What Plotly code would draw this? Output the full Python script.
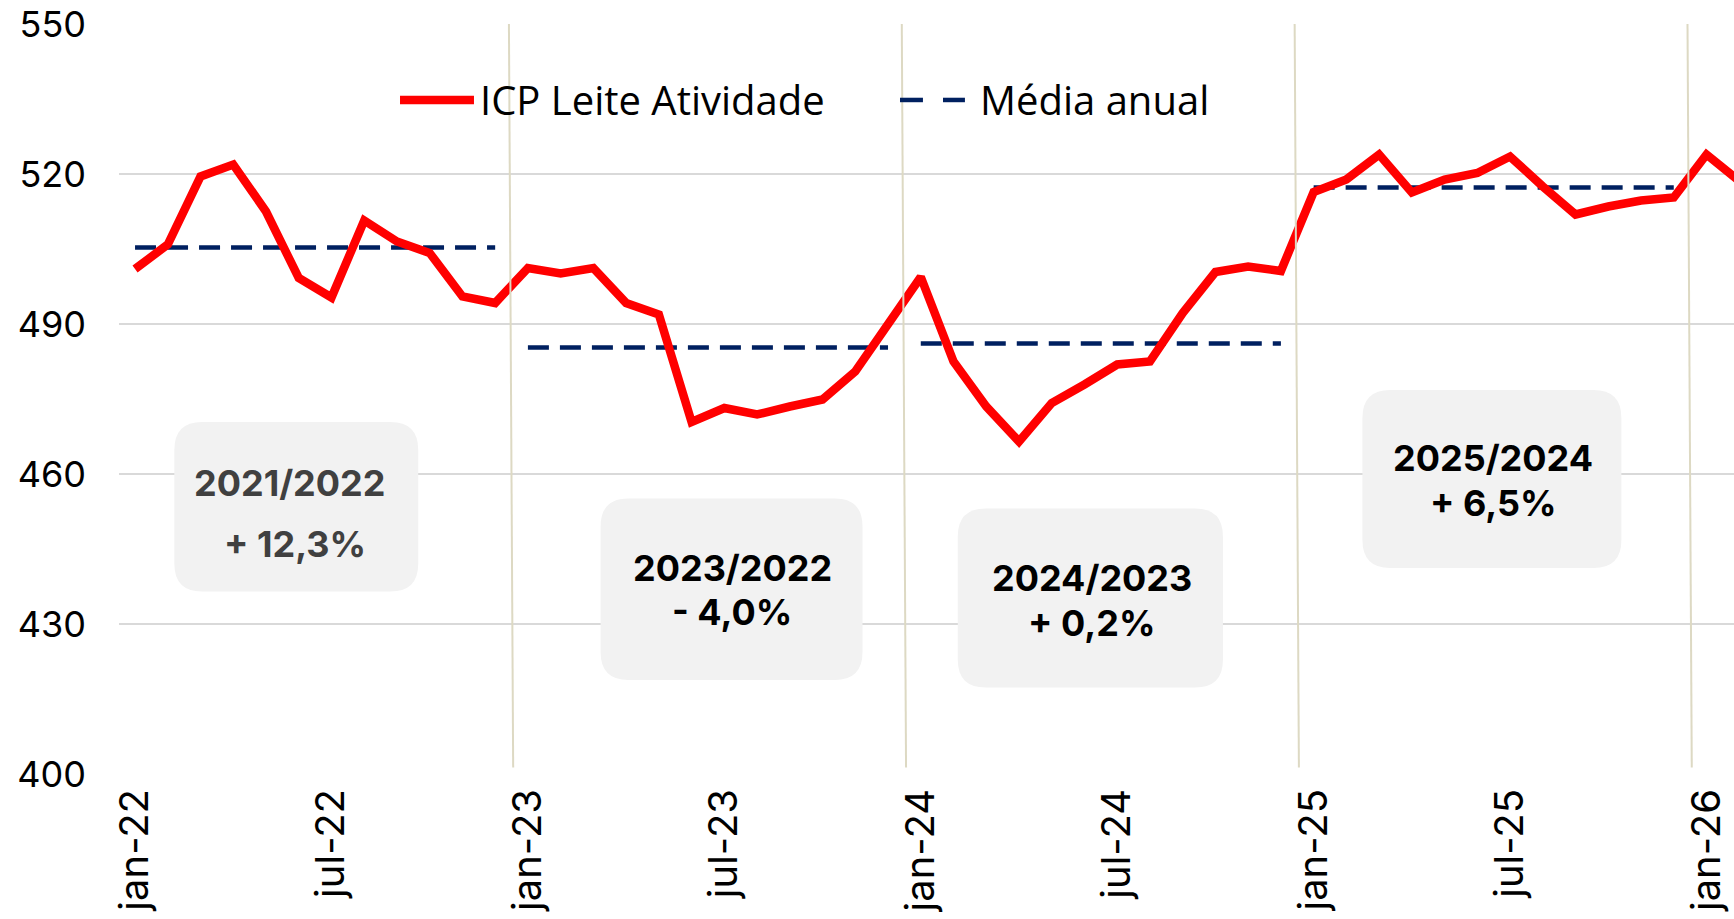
import plotly.graph_objects as go

# ---------------- data ----------------
months = [
    "jan-22", "fev-22", "mar-22", "abr-22", "mai-22", "jun-22", "jul-22", "ago-22", "set-22", "out-22", "nov-22", "dez-22",
    "jan-23", "fev-23", "mar-23", "abr-23", "mai-23", "jun-23", "jul-23", "ago-23", "set-23", "out-23", "nov-23", "dez-23",
    "jan-24", "fev-24", "mar-24", "abr-24", "mai-24", "jun-24", "jul-24", "ago-24", "set-24", "out-24", "nov-24", "dez-24",
    "jan-25", "fev-25", "mar-25", "abr-25", "mai-25", "jun-25", "jul-25", "ago-25", "set-25", "out-25", "nov-25", "dez-25",
    "jan-26", "fev-26",
]
icp_values = [
    501.0, 505.9, 519.5, 521.9, 512.5, 499.2, 495.3, 510.7, 506.5, 504.2, 495.5, 494.2,
    501.2, 500.1, 501.2, 494.2, 491.9, 470.4, 473.2, 471.9, 473.5, 474.9, 480.5, 490.0,
    499.4, 482.5, 473.5, 466.5, 474.2, 477.9, 481.9, 482.5, 492.2, 500.4, 501.5, 500.6,
    516.4, 518.9, 523.9, 516.3, 518.9, 520.2, 523.5, 517.5, 511.9, 513.5, 514.7, 515.3,
    523.9, 518.6,
]
avg_years = ["22", "23", "24", "25"]
avg_values = [505.3, 485.3, 486.1, 517.3]

tick_labels = ["jan-22", "jul-22", "jan-23", "jul-23", "jan-24", "jul-24", "jan-25", "jul-25", "jan-26"]
y_ticks = [400, 430, 460, 490, 520, 550]

box_titles = ["2021/2022", "2023/2022", "2024/2023", "2025/2024"]
box_changes = ["+ 12,3%", "- 4,0%", "+ 0,2%", "+ 6,5%"]

series_names = ["ICP Leite Atividade", "Média anual"]

# ---------------- layout helpers ----------------
RED = "#FF0000"
NAVY = "#002060"
GRID = "#D9D9D9"
SEP = "#DDD9C3"
BOXFILL = "#F2F2F2"
TICKFONT = "Inter"
LEGFONT = "Open Sans"

x_idx = list(range(len(months)))
tickvals = [months.index(t) for t in tick_labels]

# box geometry (x in month index, y in value units)
box_geom = [
    dict(x0=1.20, x1=8.65, y0=436.5, y1=470.4, xt=4.72, xc=4.90, yt=458.2, yc=446.0, color="#404040"),
    dict(x0=14.22, x1=22.22, y0=418.8, y1=455.1, xt=18.24, xc=18.24, yt=441.2, yc=432.5, color="#000000"),
    dict(x0=25.13, x1=33.23, y0=417.3, y1=453.1, xt=29.22, xc=29.22, yt=439.2, yc=430.3, color="#000000"),
    dict(x0=37.49, x1=45.40, y0=441.2, y1=476.8, xt=41.48, xc=41.48, yt=463.3, yc=454.2, color="#000000"),
]
RX, RY = 0.85, 5.6


def rrect(x0, x1, y0, y1, rx, ry):
    return (f"M {x0+rx},{y0} L {x1-rx},{y0} Q {x1},{y0} {x1},{y0+ry} "
            f"L {x1},{y1-ry} Q {x1},{y1} {x1-rx},{y1} L {x0+rx},{y1} "
            f"Q {x0},{y1} {x0},{y1-ry} L {x0},{y0+ry} Q {x0},{y0} {x0+rx},{y0} Z")


fig = go.Figure()

# annual average dashed lines
for yr, val in zip(avg_years, avg_values):
    xs = [i for i, m in enumerate(months) if m.endswith("-" + yr)]
    fig.add_trace(go.Scatter(
        x=[xs[0], xs[-1]], y=[val, val], mode="lines",
        line=dict(color=NAVY, width=4.5, dash="21px,11px"),
        name=series_names[1], showlegend=False, hoverinfo="skip",
    ))

# main series
fig.add_trace(go.Scatter(
    x=x_idx, y=icp_values, mode="lines",
    line=dict(color=RED, width=8.5),
    name=series_names[0], showlegend=False,
))

shapes = []
annotations = []

# boxes
for g, t, c in zip(box_geom, box_titles, box_changes):
    shapes.append(dict(type="path", xref="x", yref="y",
                       path=rrect(g["x0"], g["x1"], g["y0"], g["y1"], RX, RY),
                       fillcolor=BOXFILL, line=dict(width=0), layer="above"))
    annotations.append(dict(x=g["xt"], y=g["yt"], xref="x", yref="y", text=f"<b>{t}</b>",
                            showarrow=False, xanchor="center", yanchor="middle",
                            font=dict(family=TICKFONT, size=36, color=g["color"])))
    annotations.append(dict(x=g["xc"], y=g["yc"], xref="x", yref="y", text=f"<b>{c}</b>",
                            showarrow=False, xanchor="center", yanchor="middle",
                            font=dict(family=TICKFONT, size=36, color=g["color"])))

# year separators (between december and january)
for m in months:
    if m.startswith("jan-") and months.index(m) > 0:
        b = months.index(m) - 0.5
        shapes.append(dict(type="line", xref="x", yref="y", x0=b - 0.08, x1=b + 0.05,
                           y0=550, y1=401.3, line=dict(color=SEP, width=2), layer="above"))

# custom legend
LY = 0.8987
shapes.append(dict(type="line", xref="paper", yref="paper", x0=0.1740, x1=0.2198, y0=LY, y1=LY,
                   line=dict(color=RED, width=8.5)))
shapes.append(dict(type="line", xref="paper", yref="paper", x0=0.4836, x1=0.4978, y0=LY, y1=LY,
                   line=dict(color=NAVY, width=4.5)))
shapes.append(dict(type="line", xref="paper", yref="paper", x0=0.5102, x1=0.5238, y0=LY, y1=LY,
                   line=dict(color=NAVY, width=4.5)))
annotations.append(dict(x=0.2223, y=LY, xref="paper", yref="paper", text=series_names[0],
                        showarrow=False, xanchor="left", yanchor="middle",
                        font=dict(family=LEGFONT, size=40, color="#000000")))
annotations.append(dict(x=0.5319, y=LY, xref="paper", yref="paper", text=series_names[1],
                        showarrow=False, xanchor="left", yanchor="middle",
                        font=dict(family=LEGFONT, size=40, color="#000000")))

fig.update_layout(
    width=1734, height=919,
    margin=dict(l=119, r=0, t=24, b=145, pad=0),
    paper_bgcolor="white", plot_bgcolor="white",
    showlegend=False,
    shapes=shapes, annotations=annotations,
    xaxis=dict(range=[-0.49, 48.84], tickvals=tickvals, ticktext=tick_labels,
               tickangle=-90, showgrid=False, zeroline=False, showline=False,
               ticks="", ticklabelstandoff=6,
               tickfont=dict(family=TICKFONT, size=40, color="#000000")),
    yaxis=dict(range=[400, 550], tickvals=y_ticks, showgrid=True, gridcolor=GRID, gridwidth=2,
               zeroline=False, showline=False, ticks="", ticklabelstandoff=32,
               tickfont=dict(family=TICKFONT, size=36, color="#000000")),
)

fig.write_html("out.html", config={"displayModeBar": False},
               post_script="document.body.style.margin='0';document.body.style.overflow='hidden';")
